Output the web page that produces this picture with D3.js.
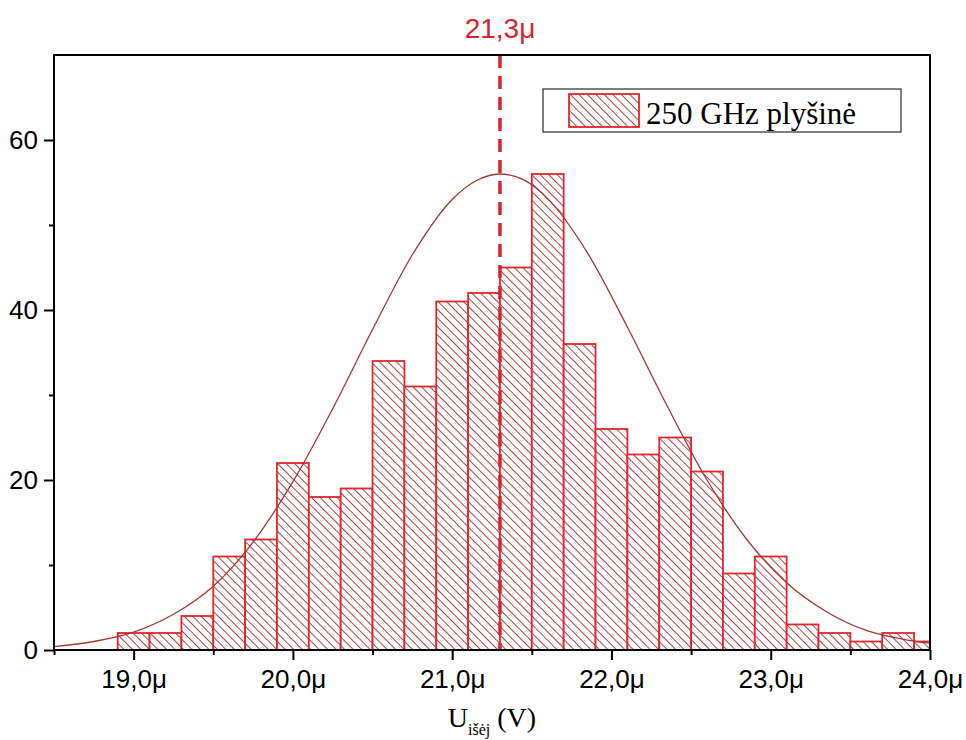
<!DOCTYPE html>
<html>
<head>
<meta charset="utf-8">
<script src="https://cdn.jsdelivr.net/npm/d3@7"></script>
<style>
  html, body { margin: 0; padding: 0; background: #fff; }
  svg { display: block; }
</style>
</head>
<body>
<div id="chart"></div>
<script>
// histogram bins (left edges, width 0.2) and counts
const binStarts = [18.9, 19.1, 19.3, 19.5, 19.7, 19.9, 20.1, 20.3, 20.5, 20.7, 20.9, 21.1, 21.3,
                   21.5, 21.7, 21.9, 22.1, 22.3, 22.5, 22.7, 22.9, 23.1, 23.3, 23.5, 23.7, 23.9];
const binWidth = 0.2;
const counts = [2, 2, 4, 11, 13, 22, 18, 19, 34, 31, 41, 42, 45,
                56, 36, 26, 23, 25, 21, 9, 11, 3, 2, 1, 2, 1];

// normal curve, points
const curveX = [18.5, 18.75, 19.0, 19.25, 19.5, 19.75, 20.0, 20.25, 20.5, 20.75, 21.0, 21.15, 21.3,
                21.45, 21.6, 21.85, 22.1, 22.35, 22.6, 22.85, 23.1, 23.35, 23.6, 23.85, 24.0];
const curveY = [0.4, 1.0, 2.1, 4.2, 7.5, 12.7, 19.8, 28.4, 37.7, 46.5, 53.0, 55.2, 56.0,
                55.3, 53.1, 46.7, 38.0, 28.7, 20.0, 13.0, 7.9, 4.5, 2.3, 1.2, 0.8];

const meanValue = 21.3;
const meanLabel = "21,3μ";
const legendLabel = "250 GHz plyšinė";

const xTickValues = [19, 20, 21, 22, 23, 24];
const xTickLabels = ["19,0μ", "20,0μ", "21,0μ", "22,0μ", "23,0μ", "24,0μ"];
const xMinorTicks = [18.5, 19.5, 20.5, 21.5, 22.5, 23.5];
const yTickValues = [0, 20, 40, 60];
const yMinorTicks = [10, 30, 50];

const width = 966, height = 740;
const margin = { left: 54, right: 36, top: 55, bottom: 90 };
const barStroke = "#e3262b";
const hatchColor = "#9e3434";

const svg = d3.select("#chart").append("svg")
  .attr("width", width)
  .attr("height", height);

const x = d3.scaleLinear().domain([18.5, 24.0]).range([margin.left, width - margin.right]);
const y = d3.scaleLinear().domain([0, 70]).range([height - margin.bottom, margin.top]);

const defs = svg.append("defs");
const pat = defs.append("pattern")
  .attr("id", "hatch")
  .attr("patternUnits", "userSpaceOnUse")
  .attr("width", 6).attr("height", 6)
  .attr("patternTransform", "rotate(-45)");
pat.append("rect").attr("width", 6).attr("height", 6).attr("fill", "#fff");
pat.append("line")
  .attr("x1", 0).attr("y1", 0).attr("x2", 0).attr("y2", 6)
  .attr("stroke", hatchColor).attr("stroke-width", 1.8);

defs.append("clipPath").attr("id", "plotClip")
  .append("rect")
  .attr("x", x.range()[0]).attr("y", y.range()[1])
  .attr("width", x.range()[1] - x.range()[0])
  .attr("height", y.range()[0] - y.range()[1]);

const plot = svg.append("g").attr("clip-path", "url(#plotClip)");

// bars
plot.selectAll("rect.bar")
  .data(binStarts.map((b, i) => ({ x0: b, x1: b + binWidth, n: counts[i] })))
  .join("rect")
  .attr("class", "bar")
  .attr("x", d => x(d.x0))
  .attr("y", d => y(d.n))
  .attr("width", d => x(d.x1) - x(d.x0))
  .attr("height", d => y(0) - y(d.n))
  .attr("fill", "url(#hatch)")
  .attr("stroke", barStroke)
  .attr("stroke-width", 1.8);

// fitted curve
const line = d3.line()
  .x(d => x(d[0]))
  .y(d => y(d[1]))
  .curve(d3.curveMonotoneX);
plot.append("path")
  .datum(curveX.map((v, i) => [v, curveY[i]]))
  .attr("d", line)
  .attr("fill", "none")
  .attr("stroke", "#a83535")
  .attr("stroke-width", 1.3);

// mean line
svg.append("line")
  .attr("x1", x(meanValue)).attr("x2", x(meanValue))
  .attr("y1", y(70)).attr("y2", y(0))
  .attr("stroke", "#d8242a")
  .attr("stroke-width", 3.5)
  .attr("stroke-dasharray", "13,8");

svg.append("text")
  .attr("x", x(meanValue))
  .attr("y", 38)
  .attr("text-anchor", "middle")
  .attr("font-family", "Liberation Sans, Arial, sans-serif")
  .attr("font-size", 28)
  .attr("fill", "#d8242a")
  .text(meanLabel);

// frame
svg.append("rect")
  .attr("x", x.range()[0]).attr("y", y.range()[1])
  .attr("width", x.range()[1] - x.range()[0])
  .attr("height", y.range()[0] - y.range()[1])
  .attr("fill", "none")
  .attr("stroke", "#000")
  .attr("stroke-width", 2);

// axes
const xAxis = d3.axisBottom(x)
  .tickValues(xTickValues)
  .tickFormat((d, i) => xTickLabels[i])
  .tickSize(10).tickPadding(10);
const gx = svg.append("g")
  .attr("transform", `translate(0,${y(0)})`)
  .call(xAxis);

const gxMinor = svg.append("g")
  .attr("transform", `translate(0,${y(0)})`)
  .call(d3.axisBottom(x).tickValues(xMinorTicks).tickFormat("").tickSize(5));

const yAxis = d3.axisLeft(y)
  .tickValues(yTickValues)
  .tickSize(10).tickPadding(6);
const gy = svg.append("g")
  .attr("transform", `translate(${x(18.5)},0)`)
  .call(yAxis);
const gyMinor = svg.append("g")
  .attr("transform", `translate(${x(18.5)},0)`)
  .call(d3.axisLeft(y).tickValues(yMinorTicks).tickFormat("").tickSize(5));

[gx, gxMinor, gy, gyMinor].forEach(g => {
  g.select(".domain").remove();
  g.selectAll("line").attr("stroke", "#000").attr("stroke-width", 2);
  g.selectAll("text")
    .attr("font-family", "Liberation Sans, Arial, sans-serif")
    .attr("font-size", 26)
    .attr("fill", "#000");
});

// x axis title
const title = svg.append("text")
  .attr("x", (x.range()[0] + x.range()[1]) / 2)
  .attr("y", 727)
  .attr("text-anchor", "middle")
  .attr("font-family", "Liberation Serif, Times New Roman, serif")
  .attr("font-size", 28)
  .attr("fill", "#000");
title.append("tspan").text("U");
title.append("tspan").attr("font-size", 16).attr("dy", 8).text("išėj");
title.append("tspan").attr("dy", -8).text(" (V)");

// legend
const lg = svg.append("g");
lg.append("rect")
  .attr("x", 543).attr("y", 89)
  .attr("width", 358).attr("height", 43)
  .attr("fill", "#fff")
  .attr("stroke", "#000")
  .attr("stroke-width", 1);
lg.append("rect")
  .attr("x", 569).attr("y", 94)
  .attr("width", 70).attr("height", 33)
  .attr("fill", "url(#hatch)")
  .attr("stroke", barStroke)
  .attr("stroke-width", 1.8);
lg.append("text")
  .attr("x", 646).attr("y", 124)
  .attr("font-family", "Liberation Serif, Times New Roman, serif")
  .attr("font-size", 31)
  .attr("fill", "#000")
  .text(legendLabel);
</script>
</body>
</html>
